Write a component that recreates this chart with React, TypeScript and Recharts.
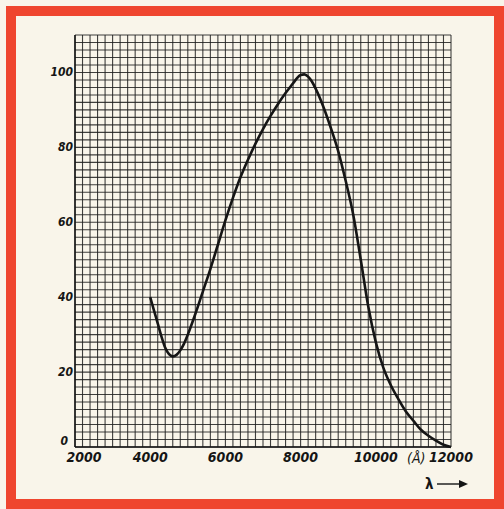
import { CartesianGrid, Line, LineChart, XAxis, YAxis } from 'recharts';

// wavelength (Å) and relative response (%)
const wavelengths = [
  4000, 4100, 4200, 4300, 4400, 4500, 4600, 4700, 4800, 4900, 5000, 5200, 5400, 5600, 5800, 6000,
  6200, 6400, 6600, 6800, 7000, 7200, 7400, 7600, 7800, 7900, 8000, 8100, 8200, 8300, 8400, 8600,
  8800, 9000, 9200, 9400, 9600, 9800, 10000, 10200, 10400, 10600, 10800, 11000, 11200, 11400,
  11600, 11800, 12000,
];
const response = [
  40, 36.5, 33, 29.5, 26.5, 24.8, 24.2, 24.6, 25.8, 27.6, 30, 35.5, 41.5, 47.5, 54, 60.5,
  66.5, 72, 76.7, 81, 84.9, 88.4, 91.6, 94.5, 97.1, 98.4, 99.3, 99.5, 98.9, 97.6, 95.7, 91,
  85.3, 79, 71, 62, 50, 37.5, 28, 21.2, 16.5, 12.8, 9.5, 7, 4.6, 3,
  1.7, 0.6, 0,
];

const xLabels = [2000, 4000, 6000, 8000, 10000, 12000];
const yLabels = [0, 20, 40, 60, 80, 100];

// millimetre-paper rulings: one cell = 200 Å by 2 %
const gridX = Array.from({ length: 51 }, (_, i) => 2000 + i * 200);
const gridY = Array.from({ length: 56 }, (_, i) => i * 2);

const data = wavelengths.map((w, i) => ({ w, r: response[i] }));

const ink = '#151515';
const paper = '#f9f5ea';
const labelFont = {
  fontFamily: '"DejaVu Sans Condensed", "DejaVu Sans", sans-serif',
  fontStyle: 'italic' as const,
  fontWeight: 700,
};

function XTick({ x, y, payload }: any) {
  if (!xLabels.includes(payload.value)) return null;
  const shift = payload.value === 2000 ? 9 : 0;
  return (
    <text x={x + shift} y={y + 7} textAnchor="middle" fontSize={14} fill={ink} style={labelFont}>
      {payload.value}
    </text>
  );
}

function YTick({ x, y, payload }: any) {
  if (!yLabels.includes(payload.value)) return null;
  const isZero = payload.value === 0;
  return (
    <text
      x={isZero ? x + 1 : x + 6}
      y={isZero ? y - 2 : y + 4}
      textAnchor="end"
      fontSize={12}
      fill={ink}
      style={labelFont}
    >
      {payload.value}
    </text>
  );
}

export default function App() {
  return (
    <div
      style={{
        position: 'fixed',
        left: 0,
        top: 0,
        width: 504,
        height: 509,
        background: paper,
        overflow: 'hidden',
      }}
    >
      <div
        style={{
          position: 'absolute',
          left: 6,
          top: 6,
          width: 498,
          height: 503,
          boxSizing: 'border-box',
          border: '10px solid #ef462f',
        }}
      />
      <div style={{ position: 'absolute', left: 0, top: 0 }}>
        <LineChart width={504} height={509} data={data} margin={{ top: 35, right: 53, left: 0, bottom: 0 }}>
          <CartesianGrid stroke="#1e1e1e" strokeOpacity={0.85} strokeWidth={1.1} />
          <XAxis
            dataKey="w"
            type="number"
            domain={[2000, 12000]}
            ticks={gridX}
            interval={0}
            height={62}
            tickLine={false}
            axisLine={{ stroke: ink, strokeWidth: 1.5 }}
            tick={<XTick />}
          />
          <YAxis
            type="number"
            domain={[0, 110]}
            ticks={gridY}
            interval={0}
            width={75}
            tickLine={false}
            axisLine={{ stroke: ink, strokeWidth: 1.5 }}
            tick={<YTick />}
          />
          <Line
            type="monotone"
            dataKey="r"
            stroke={ink}
            strokeWidth={2.6}
            dot={false}
            isAnimationActive={false}
          />
        </LineChart>
      </div>
      <div
        style={{
          position: 'absolute',
          left: 407,
          top: 450,
          fontSize: 14,
          color: ink,
          ...labelFont,
          fontWeight: 400,
        }}
      >
        (Å)
      </div>
      <div
        style={{
          position: 'absolute',
          left: 425,
          top: 475,
          fontSize: 15,
          color: ink,
          ...labelFont,
          fontStyle: 'normal',
          display: 'flex',
          alignItems: 'center',
        }}
      >
        <span>λ</span>
        <svg width={32} height={12} style={{ marginLeft: 3 }}>
          <line x1={0} y1={6} x2={24} y2={6} stroke={ink} strokeWidth={1.4} />
          <path d="M22 2 L31 6 L22 10 Z" fill={ink} />
        </svg>
      </div>
    </div>
  );
}
